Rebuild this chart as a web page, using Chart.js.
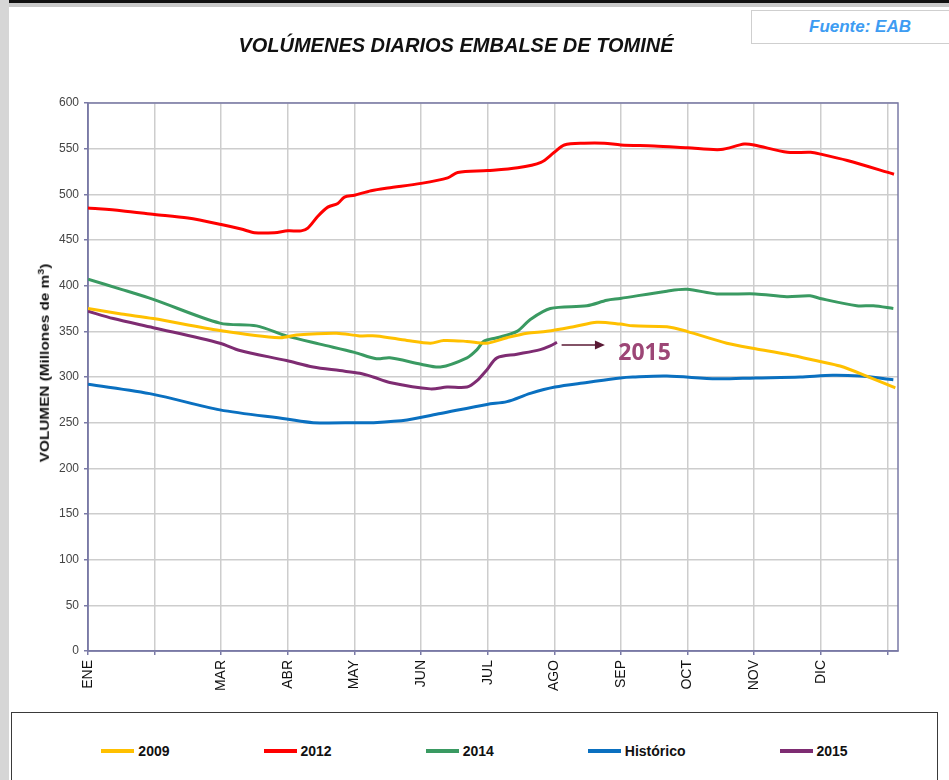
<!DOCTYPE html>
<html><head><meta charset="utf-8">
<script src="https://cdn.jsdelivr.net/npm/chart.js@4.4.1/dist/chart.umd.min.js"></script>
<style>
html,body{margin:0;padding:0;background:#fff;width:949px;height:780px;overflow:hidden;font-family:"Liberation Sans",Arial,sans-serif;}
#wrap{position:absolute;left:0;top:0;width:949px;height:712px;}
#topbar{position:absolute;left:0;top:0;width:949px;height:3px;background:#111;z-index:3;}
#topbar2{position:absolute;left:0;top:3px;width:949px;height:4px;background:#c9c9c9;z-index:3;}
#leftbar{position:absolute;left:0;top:0;width:9px;height:780px;background:#d6d6d6;z-index:3;}
#title{position:absolute;left:456px;top:45px;transform:translate(-50%,-50%);font:italic bold 20px "Liberation Sans",Arial,sans-serif;color:#111;white-space:nowrap;}
#fuente{position:absolute;left:751px;top:10px;width:210px;height:32px;border:1px solid #cfcfcf;background:#fff;}
#fuente span{position:absolute;left:57px;top:50%;transform:translateY(-50%);font:italic bold 17px "Liberation Sans",Arial,sans-serif;color:#3d9cf2;white-space:nowrap;}
#ytitle{position:absolute;left:44px;top:363px;transform:translate(-50%,-50%) rotate(-90deg) scaleX(1.18);font:bold 13px "Liberation Sans",Arial,sans-serif;color:#111;white-space:nowrap;}
#ytitle sup{font-size:9px;}
#legend{position:absolute;left:11px;top:712px;width:927px;height:80px;border:1.5px solid #3a3a3a;box-sizing:border-box;}
#legend .row{position:absolute;left:0;right:0;top:38px;transform:translateY(-50%);display:flex;justify-content:center;gap:94px;}
#legend .item{display:flex;align-items:center;gap:4px;font:bold 14px "Liberation Sans",Arial,sans-serif;color:#111;}
#legend .sw{width:33px;height:4px;}
</style></head>
<body>
<div id="wrap"><canvas id="c" width="949" height="712"></canvas></div>
<div id="topbar"></div><div id="topbar2"></div><div id="leftbar"></div>
<div id="title">VOLÚMENES DIARIOS EMBALSE DE TOMINÉ</div>
<div id="fuente"><span>Fuente: EAB</span></div>
<div id="ytitle">VOLUMEN (Millones de m<sup>3</sup>)</div>
<div id="legend"><div class="row" id="legrow"></div></div>
<script>
// Month labels for x ticks (x in months from Jan 1)
const monthLabels = ['ENE','','MAR','ABR','MAY','JUN','JUL','AGO','SEP','OCT','NOV','DIC',''];
const yTicks = [0,50,100,150,200,250,300,350,400,450,500,550,600];

// 2009
const x2009 = [0,0.5,0.98,1.98,2.88,3.13,3.73,4.08,4.33,4.79,5.14,5.34,5.69,5.99,6.29,6.59,6.89,7.29,7.64,7.99,8.18,8.69,8.99,9.59,10.02,10.49,10.99,11.29,11.69,12.12];
const v2009 = [375,369,364,351,343,346,348,345,345,340,337,340,339,337,343,348,350,355,360,358,356,355,350,337,331,325,317,312,301,288];
// 2012
const x2012 = [0,0.5,1,1.5,2,2.3,2.5,2.8,3,3.2,3.3,3.45,3.6,3.75,3.85,4,4.25,4.5,5,5.4,5.55,6,6.45,6.8,7,7.15,7.45,7.75,8,8.5,9,9.5,9.85,10,10.5,10.85,11,11.4,12.1];
const v2012 = [485,482,478,474,467,462,458,458,460,460,463,476,486,490,497,499,504,507,512,518,524,526,529,535,546,554,556,556,554,553,551,549,555,554,546,546,544,537,522];
// 2014
const x2014 = [0,0.5,0.98,1.98,2.53,2.98,3.48,4,4.33,4.53,5,5.29,5.69,5.84,5.94,6.14,6.44,6.64,6.94,7.49,7.79,7.99,8.69,8.99,9.44,10.02,10.49,10.84,10.99,11.54,11.79,12.09];
const v2014 = [407,396,385,359,356,345,336,327,320,321,314,311,321,330,339,343,350,363,375,378,384,386,394,396,391,391,388,389,386,378,378,375];
// Histórico
const xHist = [0,0.98,1.98,2.98,3.38,4.08,4.28,4.79,5.29,5.99,6.29,6.64,7.01,7.49,7.99,8.18,8.69,9.44,10.02,10.69,11.18,11.59,12.09];
const vHist = [292,281,264,254,250,250,250,253,260,270,273,282,289,294,299,300,301,298,299,300,302,301,297];
// 2015
const x2015 = [0,0.38,0.98,1.98,2.28,2.98,3.38,3.78,4.08,4.28,4.53,5.14,5.39,5.69,5.84,5.99,6.14,6.44,6.79,6.94,7.04];
const v2015 = [372,364,354,337,329,318,311,307,304,300,294,287,289,289,296,308,321,325,330,334,338];

const seriesLabels = ['2009','2012','2014','Histórico','2015'];
const seriesColors = ['#FFC000','#FF0000','#3A9A62','#0A70C0','#7E2C72'];

// annotation (arrow + text) in data units
const arrowFromX = 7.11, arrowToX = 7.76, arrowValue = 335;
const noteX = 7.96, noteValue = 326, noteText = '2015';

const pts = (xs, vs) => xs.map((x, i) => ({x, y: vs[i]}));
const allData = [pts(x2009,v2009), pts(x2012,v2012), pts(x2014,v2014), pts(xHist,vHist), pts(x2015,v2015)];

const axisColor = '#7a7aa6';

const frame = {
  id: 'frame',
  beforeDatasetsDraw(chart){
    const {ctx, chartArea: a} = chart;
    ctx.save();
    ctx.strokeStyle = axisColor; ctx.lineWidth = 1.5;
    ctx.strokeRect(a.left, a.top, a.right - a.left, a.bottom - a.top);
    ctx.restore();
  }
};
const annot = {
  id: 'annot',
  afterDatasetsDraw(chart){
    const {ctx, scales: {x, y}} = chart;
    const x1 = x.getPixelForValue(arrowFromX), x2 = x.getPixelForValue(arrowToX), yy = y.getPixelForValue(arrowValue);
    ctx.save();
    ctx.strokeStyle = '#5a1a35'; ctx.fillStyle = '#5a1a35'; ctx.lineWidth = 1.6;
    ctx.beginPath(); ctx.moveTo(x1, yy); ctx.lineTo(x2 - 8, yy); ctx.stroke();
    ctx.beginPath(); ctx.moveTo(x2, yy); ctx.lineTo(x2 - 10, yy - 4.5); ctx.lineTo(x2 - 10, yy + 4.5); ctx.closePath(); ctx.fill();
    ctx.fillStyle = '#9C4676';
    ctx.font = 'bold 23px "Open Sans", sans-serif';
    ctx.textBaseline = 'middle'; ctx.textAlign = 'left';
    ctx.fillText(noteText, x.getPixelForValue(noteX), y.getPixelForValue(noteValue));
    ctx.restore();
  }
};

const chart = new Chart(document.getElementById('c'), {
  type: 'line',
  data: {
    datasets: seriesLabels.map((lab, i) => ({
      label: lab, data: allData[i], borderColor: seriesColors[i], backgroundColor: seriesColors[i],
      borderWidth: 3, pointRadius: 0, tension: 0.3, fill: false
    }))
  },
  options: {
    responsive: false, animation: false,
    layout: {padding: {top: 103, left: 0, right: 51, bottom: 11}},
    plugins: {legend: {display: false}, title: {display: false}, tooltip: {enabled: false}},
    scales: {
      x: {
        type: 'linear', min: 0, max: 12.16,
        afterFit(s){ s.height = 50; },
        grid: {color: '#cdcdcd', lineWidth: 1.5, tickColor: axisColor, tickLength: 4},
        border: {color: axisColor, width: 1.5},
        ticks: {stepSize: 1, includeBounds: false, autoSkip: false, maxRotation: 90, minRotation: 90, padding: 5,
          color: '#111', font: {family: '"Liberation Sans", Arial, sans-serif', size: 14},
          callback: v => (Number.isInteger(v) ? (monthLabels[v] ?? '') : '')}
      },
      y: {
        min: 0, max: 600,
        afterFit(s){ s.width = 88; },
        afterBuildTicks(s){ s.ticks = yTicks.map(v => ({value: v})); },
        grid: {color: '#cdcdcd', lineWidth: 1.5, tickColor: axisColor, tickLength: 4},
        border: {color: axisColor, width: 1.5},
        ticks: {padding: 5, color: '#444', font: {family: '"Liberation Sans", Arial, sans-serif', size: 12}}
      }
    }
  },
  plugins: [frame, annot]
});

// legend built from the chart's datasets
const row = document.getElementById('legrow');
chart.data.datasets.forEach(ds => {
  const it = document.createElement('div'); it.className = 'item';
  const sw = document.createElement('div'); sw.className = 'sw'; sw.style.background = ds.borderColor;
  const tx = document.createElement('span'); tx.textContent = ds.label;
  it.appendChild(sw); it.appendChild(tx); row.appendChild(it);
});
</script>
</body></html>
